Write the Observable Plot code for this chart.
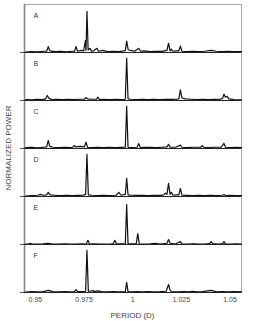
<!DOCTYPE html>
<html><head><meta charset="utf-8">
<script src="https://cdn.jsdelivr.net/npm/d3@7"></script>
<script src="https://cdn.jsdelivr.net/npm/@observablehq/plot@0.6"></script>
<style>body{margin:0;background:#fff} svg{display:block}</style>
</head><body><div id="chart"></div>
<script>
const panels = ["A","B","C","D","E","F"];
const xTicks = [0.95, 0.975, 1, 1.025, 1.05];
const xTickLabels = ["0.95", "0.975", "1", "1.025", "1.05"];
const xLabel = "PERIOD (D)";
const yLabel = "NORMALIZED POWER";

const seriesA = [[0.945,0.01],[0.948,0.02],[0.951,0.015],[0.954,0.03],[0.9558,0.03],[0.9566,0.14],[0.9574,0.04],[0.960,0.02],[0.963,0.03],[0.966,0.015],[0.969,0.03],[0.9701,0.03],[0.9709,0.14],[0.9717,0.03],[0.9735,0.05],[0.9748,0.04],[0.9757,0.28],[0.9760,0.05],[0.9765,0.98],[0.9771,0.06],[0.9781,0.10],[0.9788,0.03],[0.9800,0.04],[0.9816,0.10],[0.9824,0.03],[0.9847,0.05],[0.987,0.02],[0.990,0.03],[0.993,0.02],[0.9955,0.04],[0.9962,0.05],[0.9969,0.27],[0.9977,0.06],[0.9990,0.05],[1.0010,0.03],[1.0031,0.10],[1.0040,0.03],[1.006,0.04],[1.009,0.02],[1.012,0.03],[1.015,0.025],[1.0176,0.05],[1.0184,0.22],[1.0192,0.04],[1.0199,0.08],[1.0206,0.03],[1.0225,0.04],[1.0237,0.04],[1.0245,0.15],[1.0253,0.03],[1.028,0.02],[1.031,0.03],[1.034,0.02],[1.037,0.03],[1.0403,0.05],[1.043,0.03],[1.046,0.02],[1.049,0.03],[1.052,0.02],[1.056,0.02]];
const seriesB = [[0.945,0.02],[0.948,0.015],[0.951,0.03],[0.9535,0.02],[0.9553,0.04],[0.9561,0.12],[0.9570,0.05],[0.9585,0.02],[0.961,0.03],[0.964,0.02],[0.967,0.025],[0.970,0.02],[0.973,0.03],[0.9752,0.03],[0.9760,0.07],[0.9768,0.04],[0.979,0.03],[0.9814,0.03],[0.9821,0.08],[0.9829,0.02],[0.985,0.03],[0.988,0.02],[0.991,0.025],[0.994,0.02],[0.9962,0.03],[0.9969,1.0],[0.9976,0.04],[0.999,0.03],[1.002,0.02],[1.005,0.03],[1.008,0.02],[1.011,0.025],[1.014,0.02],[1.017,0.03],[1.020,0.025],[1.0225,0.03],[1.0237,0.04],[1.0245,0.25],[1.0253,0.06],[1.027,0.04],[1.030,0.03],[1.033,0.02],[1.036,0.03],[1.039,0.02],[1.042,0.025],[1.045,0.03],[1.0462,0.05],[1.0469,0.15],[1.0476,0.08],[1.0485,0.10],[1.0493,0.04],[1.052,0.02],[1.056,0.015]];
const seriesC = [[0.945,0.02],[0.948,0.025],[0.951,0.015],[0.954,0.03],[0.9558,0.04],[0.9566,0.19],[0.9574,0.05],[0.959,0.03],[0.962,0.02],[0.965,0.025],[0.968,0.02],[0.9692,0.03],[0.9699,0.07],[0.9707,0.04],[0.973,0.05],[0.9752,0.04],[0.9760,0.15],[0.9768,0.03],[0.979,0.02],[0.982,0.025],[0.985,0.02],[0.988,0.03],[0.991,0.02],[0.994,0.025],[0.9962,0.03],[0.9969,1.0],[0.9976,0.03],[0.999,0.02],[1.0023,0.03],[1.0031,0.12],[1.0039,0.02],[1.006,0.025],[1.0092,0.03],[1.012,0.02],[1.015,0.03],[1.0176,0.04],[1.0184,0.10],[1.0192,0.03],[1.022,0.03],[1.0245,0.08],[1.0253,0.03],[1.028,0.02],[1.031,0.03],[1.0349,0.03],[1.0357,0.07],[1.0365,0.03],[1.039,0.02],[1.042,0.03],[1.0455,0.03],[1.0469,0.12],[1.0477,0.03],[1.050,0.02],[1.053,0.025],[1.056,0.02]];
const seriesD = [[0.945,0.01],[0.948,0.02],[0.951,0.03],[0.9526,0.05],[0.954,0.03],[0.9558,0.04],[0.9566,0.10],[0.9575,0.04],[0.960,0.03],[0.963,0.02],[0.966,0.03],[0.969,0.02],[0.972,0.025],[0.9745,0.03],[0.9758,0.05],[0.9765,1.0],[0.9772,0.04],[0.979,0.03],[0.982,0.02],[0.985,0.03],[0.988,0.02],[0.9915,0.03],[0.9929,0.10],[0.9940,0.03],[0.9962,0.05],[0.9969,0.43],[0.9976,0.04],[0.999,0.03],[1.002,0.025],[1.005,0.03],[1.008,0.02],[1.011,0.03],[1.014,0.025],[1.0160,0.04],[1.0168,0.08],[1.0176,0.05],[1.0184,0.31],[1.0192,0.05],[1.0199,0.10],[1.0207,0.03],[1.0225,0.04],[1.0237,0.04],[1.0245,0.19],[1.0253,0.03],[1.028,0.025],[1.031,0.02],[1.034,0.03],[1.037,0.02],[1.040,0.025],[1.043,0.02],[1.0462,0.03],[1.0469,0.05],[1.0477,0.02],[1.050,0.025],[1.053,0.02],[1.056,0.02]];
const seriesE = [[0.945,0.01],[0.9467,0.01],[0.9474,0.03],[0.9481,0.01],[0.951,0.01],[0.954,0.015],[0.9566,0.03],[0.959,0.01],[0.962,0.01],[0.965,0.015],[0.968,0.01],[0.971,0.01],[0.974,0.015],[0.9762,0.01],[0.9770,0.10],[0.9778,0.01],[0.980,0.015],[0.983,0.01],[0.986,0.01],[0.989,0.015],[0.9900,0.02],[0.9908,0.10],[0.9916,0.02],[0.994,0.015],[0.9962,0.02],[0.9969,0.95],[0.9976,0.02],[0.999,0.015],[1.0018,0.015],[1.0026,0.26],[1.0034,0.015],[1.006,0.01],[1.009,0.015],[1.0117,0.03],[1.014,0.01],[1.0176,0.03],[1.0184,0.12],[1.0192,0.03],[1.022,0.01],[1.0245,0.07],[1.0253,0.01],[1.028,0.01],[1.031,0.015],[1.034,0.01],[1.037,0.01],[1.0395,0.02],[1.0403,0.07],[1.0411,0.02],[1.044,0.01],[1.0462,0.02],[1.0469,0.07],[1.0477,0.01],[1.050,0.01],[1.053,0.015],[1.056,0.01]];
const seriesF = [[0.945,0.01],[0.948,0.02],[0.951,0.015],[0.954,0.02],[0.9566,0.05],[0.959,0.02],[0.962,0.015],[0.965,0.02],[0.968,0.015],[0.9701,0.02],[0.9709,0.07],[0.9717,0.02],[0.9740,0.02],[0.9758,0.03],[0.9765,1.0],[0.9772,0.03],[0.979,0.04],[0.9796,0.05],[0.980,0.02],[0.9821,0.04],[0.984,0.02],[0.987,0.015],[0.990,0.02],[0.993,0.015],[0.9962,0.02],[0.9969,0.24],[0.9976,0.02],[0.999,0.015],[1.002,0.02],[1.005,0.015],[1.008,0.02],[1.011,0.015],[1.014,0.02],[1.0172,0.03],[1.0184,0.19],[1.0192,0.05],[1.0200,0.02],[1.023,0.015],[1.026,0.02],[1.029,0.015],[1.0306,0.03],[1.033,0.015],[1.036,0.02],[1.0403,0.05],[1.043,0.015],[1.046,0.02],[1.049,0.015],[1.052,0.02],[1.056,0.015]];

const allSeries = [seriesA, seriesB, seriesC, seriesD, seriesE, seriesF];
const data = panels.flatMap((panel, i) => allSeries[i].map(([period, power]) => ({panel, period, power})));

const chart = Plot.plot({
  width: 253, height: 321,
  marginTop: 3, marginBottom: 28, marginLeft: 24, marginRight: 12,
  style: {fontFamily: "'Liberation Sans', Arial, sans-serif", fontSize: "7px", color: "#444", background: "#fff", overflow: "visible"},
  x: {domain: [0.9444, 1.0559], ticks: xTicks, tickFormat: d => xTickLabels[xTicks.indexOf(d)], tickSize: 0, tickPadding: 5, label: null},
  y: {domain: [0, 1.14], axis: null},
  fy: {domain: panels, padding: 0, axis: null},
  marks: [
    Plot.frame({stroke: "#aaa"}),
    Plot.frame({anchor: "left", stroke: "#888", strokeWidth: 1.6}),
    Plot.axisY({ticks: [0], tickSize: 4, tickFormat: () => "", label: null, stroke: "#555"}),
    Plot.line(data, {x: "period", y: "power", fy: "panel", stroke: "#111", strokeWidth: 1.2}),
    Plot.ruleY([0], {stroke: "#222", strokeWidth: 1}),
    Plot.text(panels, {fy: d => d, text: d => d, frameAnchor: "top-left", dx: 9, dy: 9, fill: "#333"})
  ]
});

const svg = d3.select(chart);
svg.append("text")
  .attr("x", 24 + (253 - 24 - 12) / 2).attr("y", 318)
  .attr("text-anchor", "middle").attr("font-size", 8).attr("fill", "#444")
  .text(xLabel);
svg.append("text")
  .attr("transform", `translate(11,${3 + (321 - 3 - 28) / 2}) rotate(-90)`)
  .attr("text-anchor", "middle").attr("font-size", 8).attr("fill", "#444")
  .text(yLabel);
document.getElementById("chart").append(chart);
</script>
</body></html>
